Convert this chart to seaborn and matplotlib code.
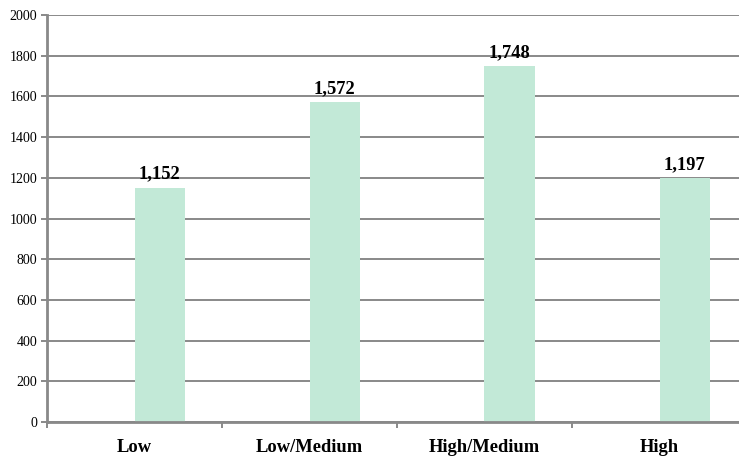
import pandas as pd
import matplotlib.pyplot as plt
import seaborn as sns

# values
categories = ["Low", "Low/Medium", "High/Medium", "High"]
counts = [1152, 1572, 1748, 1197]
yticks = list(range(0, 2001, 200))

sns.set_style("white")
plt.rcParams["font.family"] = ["Liberation Serif", "DejaVu Serif"]
plt.rcParams["text.color"] = "black"
plt.rcParams["xtick.color"] = "black"
plt.rcParams["ytick.color"] = "black"

# empty first series so the visible bar sits right of the category centre (Excel look)
df = pd.DataFrame({
    "cat": categories * 2,
    "series": ["blank"] * len(categories) + ["count"] * len(categories),
    "value": [0] * len(categories) + counts,
})

fig = plt.figure(figsize=(7.39, 4.58), dpi=100)
ax = fig.add_axes([47 / 739, 36 / 458, 700 / 739, 407 / 458])

sns.barplot(data=df, x="cat", y="value", hue="series", hue_order=["blank", "count"],
            palette={"blank": "#ffffff", "count": "#c2e9d7"}, width=0.572,
            saturation=1, linewidth=0, legend=False, ax=ax, zorder=2)

grid_col = "#898989"
ax.set_ylim(0, 2000)
ax.set_yticks(yticks)
ax.set_yticklabels([str(t) for t in yticks], fontsize=10)
ax.yaxis.grid(True, color=grid_col, linewidth=1.4, zorder=0)
ax.set_axisbelow(True)
ax.set_xlim(-0.5, len(categories) - 0.5)
ax.set_xticks(range(len(categories)))
ax.set_xticklabels(categories, fontsize=13.3, fontweight="bold")
ax.tick_params(axis="x", which="major", bottom=True, length=0, pad=12)
ax.set_xticks([i - 0.5 for i in range(len(categories) + 1)], minor=True)
ax.tick_params(axis="x", which="minor", bottom=True, length=4, width=1.4,
               color=grid_col, direction="out")
ax.tick_params(axis="y", left=True, length=4, width=1.4, color=grid_col,
               labelcolor="black", direction="out", pad=3)
ax.set_xlabel("")
ax.set_ylabel("")

for side in ["top", "right"]:
    ax.spines[side].set_visible(False)
for side in ["left", "bottom"]:
    ax.spines[side].set_color(grid_col)
    ax.spines[side].set_linewidth(2)

# data labels above the visible bars
for patch in ax.patches:
    h = patch.get_height()
    if h > 0:
        ax.text(patch.get_x() + patch.get_width() / 2, h + 25, f"{int(h):,}",
                ha="center", va="bottom", fontsize=13.3, fontweight="bold")

fig.savefig("out.png", dpi=100)
